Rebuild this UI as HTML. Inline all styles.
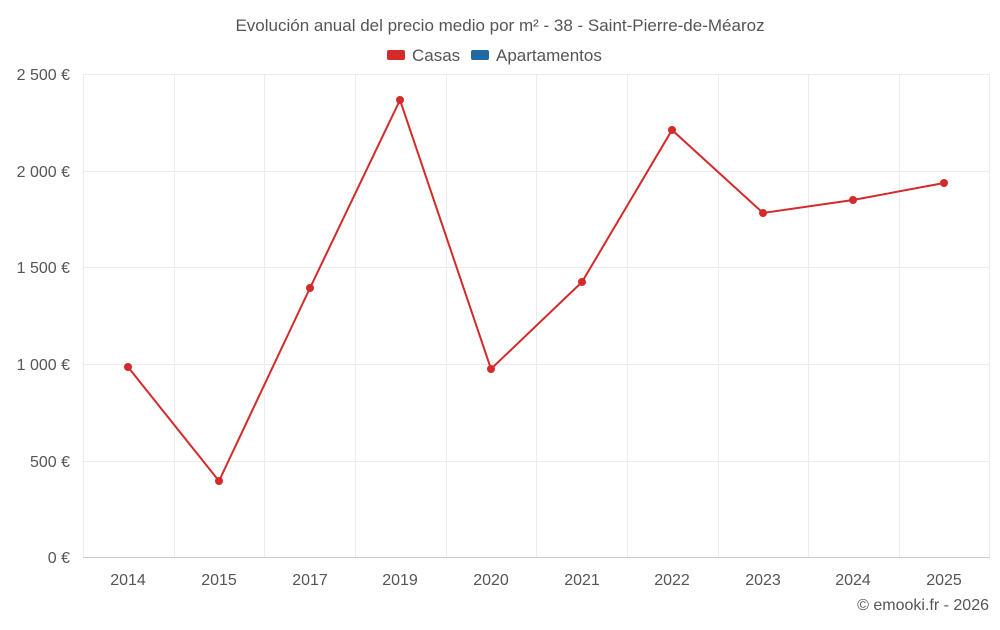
<!DOCTYPE html>
<html><head><meta charset="utf-8"><style>
body{margin:0;background:#fff;}
svg text{font-family:"Liberation Sans",sans-serif;fill:#555;}
</style></head><body>
<svg width="1000" height="625" viewBox="0 0 1000 625" xmlns="http://www.w3.org/2000/svg">
<rect width="1000" height="625" fill="#fff"/>
<text x="500" y="31" font-size="17" text-anchor="middle">Evolución anual del precio medio por m² - 38 - Saint-Pierre-de-Méaroz</text>
<rect x="387" y="50" width="18" height="10" rx="2" fill="#d42a2a"/>
<text x="412" y="61" font-size="17">Casas</text>
<rect x="471" y="50" width="18" height="10" rx="2" fill="#1f6aa5"/>
<text x="496" y="61" font-size="17">Apartamentos</text>
<g stroke="#ececec" stroke-width="1">
<line x1="83" y1="74.5" x2="990" y2="74.5"/>
<line x1="83" y1="171.5" x2="990" y2="171.5"/>
<line x1="83" y1="267.5" x2="990" y2="267.5"/>
<line x1="83" y1="364.5" x2="990" y2="364.5"/>
<line x1="83" y1="461.5" x2="990" y2="461.5"/>
<line x1="83.5" y1="74" x2="83.5" y2="557"/>
<line x1="174.5" y1="74" x2="174.5" y2="557"/>
<line x1="264.5" y1="74" x2="264.5" y2="557"/>
<line x1="355.5" y1="74" x2="355.5" y2="557"/>
<line x1="446.5" y1="74" x2="446.5" y2="557"/>
<line x1="536.5" y1="74" x2="536.5" y2="557"/>
<line x1="627.5" y1="74" x2="627.5" y2="557"/>
<line x1="718.5" y1="74" x2="718.5" y2="557"/>
<line x1="808.5" y1="74" x2="808.5" y2="557"/>
<line x1="899.5" y1="74" x2="899.5" y2="557"/>
<line x1="989.5" y1="74" x2="989.5" y2="557"/>
</g>
<line x1="83" y1="557.5" x2="990" y2="557.5" stroke="#ccc"/>
<g font-size="16" text-anchor="end">
<text x="70" y="80">2 500 €</text>
<text x="70" y="177">2 000 €</text>
<text x="70" y="273">1 500 €</text>
<text x="70" y="370">1 000 €</text>
<text x="70" y="467">500 €</text>
<text x="70" y="563">0 €</text>
</g>
<g font-size="16" text-anchor="middle">
<text x="128" y="585">2014</text><text x="219" y="585">2015</text><text x="310" y="585">2017</text>
<text x="400" y="585">2019</text><text x="491" y="585">2020</text><text x="582" y="585">2021</text>
<text x="672" y="585">2022</text><text x="763" y="585">2023</text><text x="853" y="585">2024</text>
<text x="944" y="585">2025</text>
</g>
<polyline fill="none" stroke="#d42a2a" stroke-width="2" points="128,367 219,481 310,288 400,100 491,369 582,282 672,130 763,213 853,200 944,183"/>
<g fill="#d42a2a">
<circle cx="128" cy="367" r="4"/><circle cx="219" cy="481" r="4"/><circle cx="310" cy="288" r="4"/>
<circle cx="400" cy="100" r="4"/><circle cx="491" cy="369" r="4"/><circle cx="582" cy="282" r="4"/>
<circle cx="672" cy="130" r="4"/><circle cx="763" cy="213" r="4"/><circle cx="853" cy="200" r="4"/>
<circle cx="944" cy="183" r="4"/>
</g>
<text x="989" y="610" font-size="16" text-anchor="end">© emooki.fr - 2026</text>
</svg>
</body></html>
